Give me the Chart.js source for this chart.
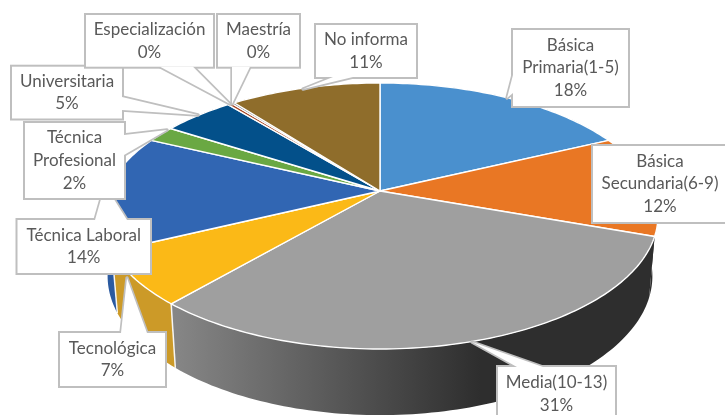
<!DOCTYPE html>
<html>
<head>
<meta charset="utf-8">
<style>html,body{margin:0;padding:0;background:#fff;overflow:hidden}canvas{display:block}</style>
<script src="https://cdn.jsdelivr.net/npm/chart.js@4/dist/chart.umd.min.js"></script>
</head>
<body>
<canvas id="c" width="725" height="415"></canvas>
<script>
const categories = [['Básica','Primaria(1-5)'],['Básica','Secundaria(6-9)'],['Media(10-13)'],['Tecnológica'],['Técnica Laboral'],['Técnica','Profesional'],['Universitaria'],['Especialización'],['Maestría'],['No informa']];
const values = [18, 12.4, 31, 6.5, 14.1, 2, 5, 0.3, 0.2, 10.5];
const faceColors = ['#4a90ce','#e97724','#9f9f9f','#fbb917','#3166b3','#6aa843','#03508a','#a5411c','#7a7a7a','#8f6d2b'];
const wallColors = ['#3a6e9e',null,null,'#cc9a28','#2b5aa0','#55883a','#033f6e','#80330f','#5f5f5f','#6f5522'];

// [left, top, right, bottom, pointer base x1,y1, x2,y2, tip x,y] per category
const calloutBoxes = [
 [513,30,628,106, 513,75, 513,93, 507,98],
 [593,146,727,222, null],
 [498,367,615,419, 517,367, 543,367, 472,342],
 [60,333,165,386, 121,333, 147,333, 127,278],
 [17.5,220,150,273, 95,220, 127,220, 105,185],
 [25,123,124,198, 124,135, 124,155, 167,130],
 [12,66.7,122,118.5, 122,97, 122,110, 198,115],
 [86,15,213,66.7, 160,66.7, 193,66.7, 230,104],
 [218,15,299,66.7, 232,66.7, 250,66.7, 232,104],
 [316,25,416,77, 333,77, 353,77, 303,89]
];
const calloutOrder = [3,4,5,6,7,8,9,0,1,2];

// perspective of the pie's top face and of its lower rim
const view = {cx:380, cy:191, a:273, b:128.3, p:0.188, rimX:0.98, rimY:1.045, depth:59};
function top3d(angle){
  const t = angle + Math.PI/2, X = Math.sin(t), Y = -Math.cos(t), d = 1 - view.p*Y;
  return [view.cx + view.a*X/d, view.cy + view.b*Y/d];
}
function rim3d(angle){
  const q = top3d(angle);
  return [view.cx + (q[0]-view.cx)*view.rimX, view.cy + (q[1]-view.cy)*view.rimY + view.depth];
}
function samples(a0,a1){
  const n = Math.max(2, Math.ceil((a1-a0)/0.02)), out=[];
  for(let i=0;i<=n;i++) out.push(a0+(a1-a0)*i/n);
  return out;
}
const pie3d = {
  id:'pie3d',
  beforeDatasetDraw(chart,args){
    const ctx = chart.ctx, arcs = chart.getDatasetMeta(args.index).data;
    const order = arcs.map((_,i)=>i).sort((i,j)=>{
      const m=k=>-Math.cos((arcs[k].startAngle+arcs[k].endAngle)/2+Math.PI/2);
      return m(i)-m(j);
    });
    const grad = ctx.createLinearGradient(175,0,480,0);
    grad.addColorStop(0,'#868686'); grad.addColorStop(1,'#2e2e2e');
    ctx.save();
    order.forEach(i=>{
      const s = samples(arcs[i].startAngle, arcs[i].endAngle);
      ctx.beginPath();
      s.forEach((a,k)=>{const p=top3d(a); k?ctx.lineTo(p[0],p[1]):ctx.moveTo(p[0],p[1]);});
      s.slice().reverse().forEach(a=>{const p=rim3d(a); ctx.lineTo(p[0],p[1]);});
      ctx.closePath();
      ctx.fillStyle = wallColors[i] || grad;
      ctx.fill();
      ctx.strokeStyle='rgba(255,255,255,0.9)'; ctx.lineWidth=1.5;
      if(Math.cos(arcs[i].endAngle+Math.PI/2)<0 && Math.sin(arcs[i].endAngle+Math.PI/2)<0){
        const a=top3d(arcs[i].endAngle), b=rim3d(arcs[i].endAngle);
        ctx.beginPath(); ctx.moveTo(a[0],a[1]); ctx.lineTo(b[0],b[1]); ctx.stroke();
      }
    });
    arcs.forEach((arc,i)=>{
      ctx.beginPath(); ctx.moveTo(view.cx,view.cy);
      samples(arc.startAngle,arc.endAngle).forEach(a=>{const p=top3d(a); ctx.lineTo(p[0],p[1]);});
      ctx.closePath();
      ctx.fillStyle=faceColors[i]; ctx.fill();
      ctx.strokeStyle='#fff'; ctx.lineWidth=1.4; ctx.lineJoin='round'; ctx.stroke();
    });
    ctx.restore();
    return false;
  },
  afterDatasetsDraw(chart){
    const ctx = chart.ctx, total = values.reduce((a,b)=>a+b,0);
    ctx.save();
    calloutOrder.forEach(i=>{
      const b = calloutBoxes[i], L=b[0],T=b[1],R=b[2],B=b[3];
      ctx.fillStyle='#fff'; ctx.strokeStyle='#bfbfbf'; ctx.lineWidth=4; ctx.lineJoin='miter';
      ctx.strokeRect(L,T,R-L,B-T);
      if(b[4]!==null){
        ctx.lineWidth=3.4; ctx.lineJoin='round';
        ctx.beginPath(); ctx.moveTo(b[4],b[5]); ctx.lineTo(b[8],b[9]); ctx.lineTo(b[6],b[7]); ctx.closePath();
        ctx.stroke();
      }
      ctx.fillRect(L,T,R-L,B-T);
      if(b[4]!==null){
        ctx.beginPath(); ctx.moveTo(b[4],b[5]); ctx.lineTo(b[8],b[9]); ctx.lineTo(b[6],b[7]); ctx.closePath(); ctx.fill();
      }
      const lines = categories[i].concat([Math.round(values[i]/total*100)+'%']);
      const lh=22.7, cx=(L+R)/2, cy=(i===2?394:(T+B)/2);
      ctx.fillStyle='#595959'; ctx.font='17px Lato'; ctx.textAlign='center'; ctx.textBaseline='middle';
      lines.forEach((t,k)=>ctx.fillText(t,cx,cy+(k-(lines.length-1)/2)*lh));
    });
    ctx.restore();
  }
};
new Chart(document.getElementById('c'),{
  type:'pie',
  data:{labels:categories.map(c=>c.join(' ')),datasets:[{data:values,backgroundColor:faceColors,borderWidth:0}]},
  options:{responsive:false,animation:false,plugins:{legend:{display:false},tooltip:{enabled:false}}},
  plugins:[pie3d]
});
</script>
</body>
</html>
